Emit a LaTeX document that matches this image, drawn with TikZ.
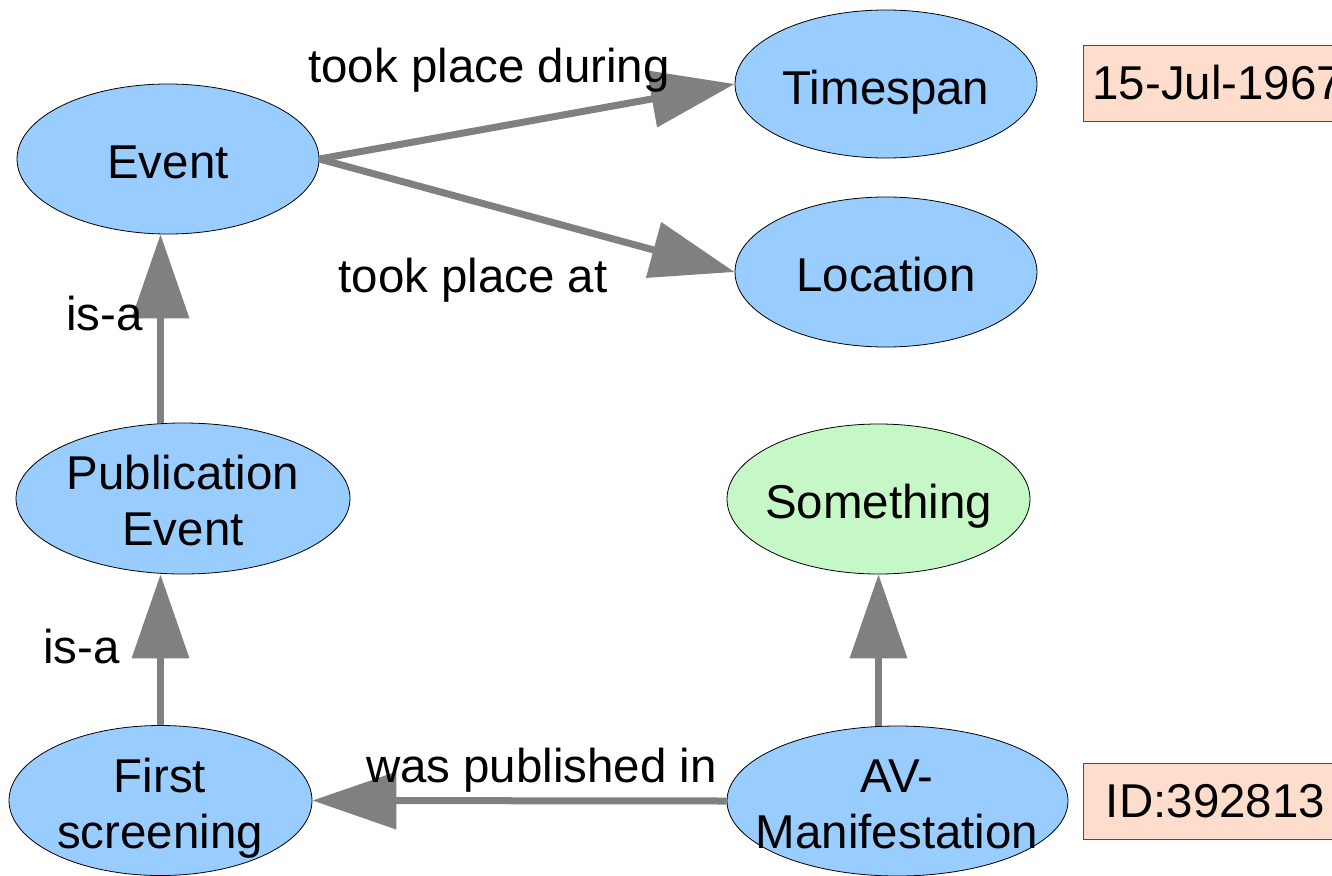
\documentclass[tikz,border=0pt]{standalone}
\usepackage{fontspec}
\setmainfont{Liberation Sans}
\usetikzlibrary{shapes.geometric,arrows.meta}
\definecolor{nodeblue}{HTML}{99CCFF}
\definecolor{nodegreen}{HTML}{C6F7C6}
\definecolor{valpeach}{HTML}{FFDDCC}
\definecolor{arrowgray}{HTML}{808080}
\begin{document}
\begin{tikzpicture}[x=0.75pt,y=-0.75pt,
  every node/.style={font=\fontsize{35.6}{42}\selectfont, text=black},
  ell/.style={ellipse, draw=black, line width=0.6pt, fill=nodeblue, inner sep=0pt},
  lbl/.style={inner sep=0pt, align=center},
  valbox/.style={rectangle, draw=black!70, line width=0.75pt, fill=valpeach, inner ysep=0pt, inner xsep=6.75pt, minimum height=57pt, anchor=west},
  rel/.style={draw=arrowgray, line width=5.25pt, -{Triangle[length=63pt,width=42pt]}},
]
\clip (0,0) rectangle (1332,875);
\useasboundingbox (0,0) rectangle (1332,875);

% ellipses
\node[ell, minimum width=226.5pt, minimum height=112.5pt] (event) at (168,159) {};
\node[ell, minimum width=226.5pt, minimum height=111pt] (timespan) at (886,84) {};
\node[ell, minimum width=226.5pt, minimum height=112.5pt] (location) at (886,272) {};
\node[ell, minimum width=250.5pt, minimum height=113.25pt] (pub) at (183,498.5) {};
\node[ell, fill=nodegreen, minimum width=227.25pt, minimum height=112.5pt] (something) at (878.5,499) {};
\node[ell, minimum width=227.25pt, minimum height=112.5pt] (first) at (160.5,800.5) {};
\node[ell, minimum width=255.75pt, minimum height=112.5pt] (av) at (897.5,801) {};

% value boxes
\node[valbox] (date) at (1083,83) {15-Jul-1967};
\node[valbox, minimum width=198pt] (id) at (1083,801) {ID:392813};

% connectors
\draw[rel] (event.east) -- (timespan.west);
\draw[rel] (event.east) -- (location.west);
\draw[rel] (pub.north -| first.north) -- (event.south -| first.north);
\draw[rel] (first.north) -- (first.north |- pub.south);
\draw[rel] (av.north -| something.south) -- (something.south);
\draw[rel] (av.west) -- (first.east);

% connector labels
\node[lbl, anchor=base] (l-during) at (489,82) {took place during};
\node[lbl, anchor=base] (l-at) at (473,292) {took place at};
\node[lbl, anchor=base] (l-isa1) at (104.5,330) {is-a};
\node[lbl, anchor=base] (l-isa2) at (81.5,663) {is-a};
\node[lbl, anchor=base] (l-pub) at (541.5,782) {was published in};

% node texts
\node[lbl, anchor=base] (event-t) at (168,178) {Event};
\node[lbl, anchor=base] (timespan-t) at (886,104) {Timespan};
\node[lbl, anchor=base] (location-t) at (886,291) {Location};
\node[lbl, anchor=base] (something-t) at (878.5,518) {Something};
\node[lbl] (pub-t) at (183,501) {Publication\\Event};
\node[lbl] (first-t) at (160,808.5) {First\\screening};
\node[lbl] (av-t) at (897,804) {AV-\\Manifestation};
\end{tikzpicture}
\end{document}
